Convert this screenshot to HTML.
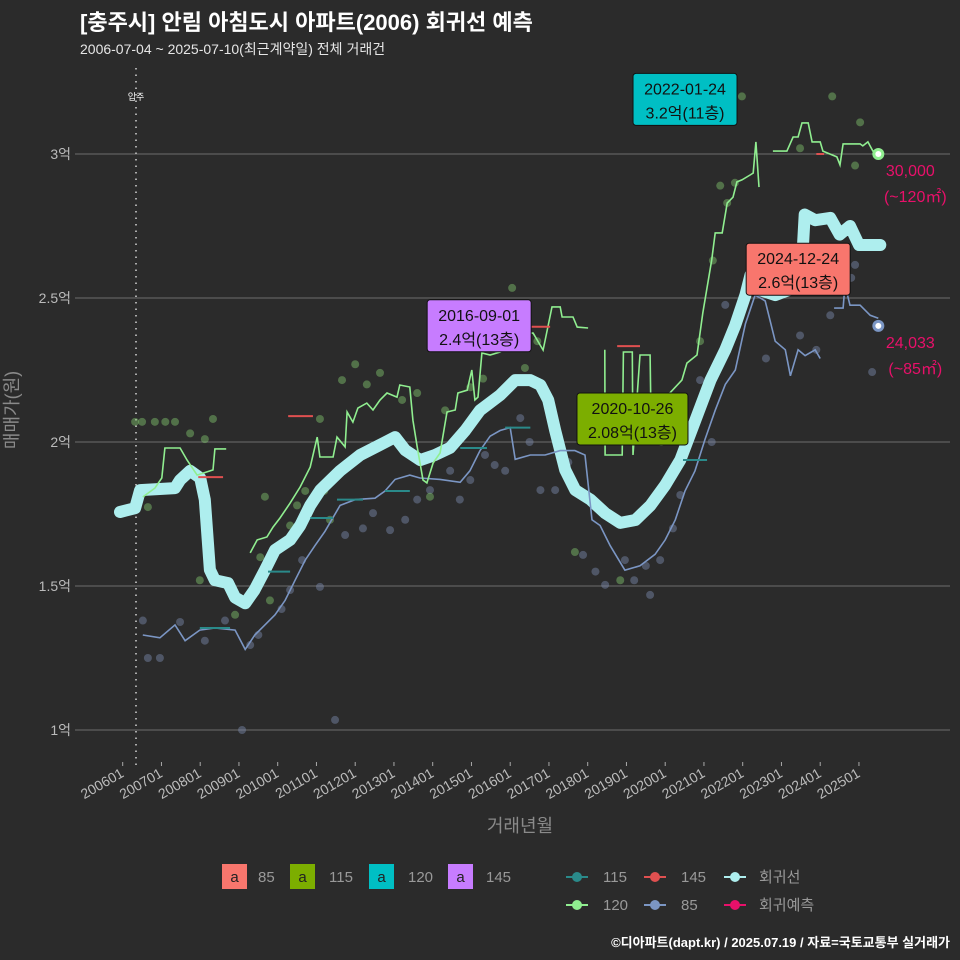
<!DOCTYPE html>
<html><head><meta charset="utf-8">
<style>
html,body{margin:0;padding:0;background:#2b2b2b;}
svg{display:block;font-family:"Liberation Sans","Noto Sans CJK KR",sans-serif;}
</style></head>
<body>
<svg id="chart" width="960" height="960" viewBox="0 0 960 960" xmlns="http://www.w3.org/2000/svg">
<rect width="960" height="960" fill="#2b2b2b"/>
<text x="80" y="30" font-size="22" font-weight="bold" fill="#ffffff">[충주시] 안림 아침도시 아파트(2006) 회귀선 예측</text>
<text x="80" y="54" font-size="14" fill="#e6e6e6">2006-07-04 ~ 2025-07-10(최근계약일) 전체 거래건</text>
<g id="grid"></g>
<g id="marks"></g>
<g id="ann"></g>
<text x="18" y="410" font-size="18" fill="#8a8a8a" text-anchor="middle" transform="rotate(-90 18 410)">매매가(원)</text>
<text x="520" y="832" font-size="18" fill="#8a8a8a" text-anchor="middle">거래년월</text>
<g>
 <rect x="222" y="864" width="25" height="25" fill="#f8766d"/>
 <text x="234.5" y="882" font-size="15" fill="#222" text-anchor="middle">a</text>
 <text x="258" y="882" font-size="15" fill="#999">85</text>
 <rect x="290" y="864" width="25" height="25" fill="#7cae00"/>
 <text x="302.5" y="882" font-size="15" fill="#222" text-anchor="middle">a</text>
 <text x="329" y="882" font-size="15" fill="#999">115</text>
 <rect x="369" y="864" width="25" height="25" fill="#00bfc4"/>
 <text x="381.5" y="882" font-size="15" fill="#222" text-anchor="middle">a</text>
 <text x="408" y="882" font-size="15" fill="#999">120</text>
 <rect x="448" y="864" width="25" height="25" fill="#c77cff"/>
 <text x="460.5" y="882" font-size="15" fill="#222" text-anchor="middle">a</text>
 <text x="486" y="882" font-size="15" fill="#999">145</text>
 <g><line x1="566" y1="877" x2="588" y2="877" stroke="#2a8a8a" stroke-width="2"/><circle cx="577" cy="877" r="5" fill="#2a8a8a"/><text x="603" y="882" font-size="15" fill="#999">115</text></g>
 <g><line x1="644" y1="877" x2="666" y2="877" stroke="#e05050" stroke-width="2"/><circle cx="655" cy="877" r="5" fill="#e05050"/><text x="681" y="882" font-size="15" fill="#999">145</text></g>
 <g><line x1="724" y1="877" x2="746" y2="877" stroke="#aeeeee" stroke-width="2"/><circle cx="735" cy="877" r="5" fill="#aeeeee"/><text x="759" y="882" font-size="15" fill="#999">회귀선</text></g>
 <g><line x1="566" y1="905" x2="588" y2="905" stroke="#90ee90" stroke-width="2"/><circle cx="577" cy="905" r="5" fill="#90ee90"/><text x="603" y="910" font-size="15" fill="#999">120</text></g>
 <g><line x1="644" y1="905" x2="666" y2="905" stroke="#7b96c4" stroke-width="2"/><circle cx="655" cy="905" r="5" fill="#7b96c4"/><text x="681" y="910" font-size="15" fill="#999">85</text></g>
 <g><line x1="724" y1="905" x2="746" y2="905" stroke="#e8106a" stroke-width="2"/><circle cx="735" cy="905" r="5" fill="#e8106a"/><text x="759" y="910" font-size="15" fill="#999">회귀예측</text></g>
</g>
<text x="950" y="947" font-size="13" font-weight="bold" fill="#ffffff" text-anchor="end">©디아파트(dapt.kr) / 2025.07.19 / 자료=국토교통부 실거래가</text>
</svg>
<script>
const yTicks=[1,1.5,2,2.5,3];
const yTickLabels=["1억","1.5억","2억","2.5억","3억"];
const xTickYears=[2006,2007,2008,2009,2010,2011,2012,2013,2014,2015,2016,2017,2018,2019,2020,2021,2022,2023,2024,2025];
const xTickLabels=["200601","200701","200801","200901","201001","201101","201201","201301","201401","201501","201601","201701","201801","201901","202001","202101","202201","202301","202401","202501"];
// regression line
const regT=[2005.93,2006.32,2006.45,2007.35,2007.48,2007.74,2008.0,2008.12,2008.25,2008.38,2008.72,2008.9,2009.16,2009.4,2009.67,2009.93,2010.32,2010.58,2010.84,2011.1,2011.61,2012.13,2012.64,2013.03,2013.29,2013.68,2014.06,2014.45,2014.84,2015.22,2015.74,2016.13,2016.52,2016.78,2016.98,2017.16,2017.42,2017.68,2018.07,2018.45,2018.84,2019.23,2019.62,2020.0,2020.39,2020.78,2021.17,2021.55,2021.81,2022.07,2022.2,2022.4,2022.84,2023.23,2023.5,2023.6,2023.87,2024.26,2024.5,2024.77,2025.0,2025.55];
const regV=[1.757,1.77,1.833,1.84,1.868,1.90,1.875,1.80,1.556,1.52,1.51,1.46,1.44,1.486,1.555,1.625,1.66,1.71,1.78,1.833,1.90,1.955,1.99,2.017,1.972,1.937,1.955,1.98,2.04,2.11,2.163,2.215,2.215,2.198,2.146,2.04,1.903,1.833,1.80,1.753,1.719,1.729,1.78,1.85,1.9375,2.076,2.215,2.32,2.406,2.51,2.58,2.53,2.51,2.53,2.545,2.79,2.77,2.778,2.72,2.75,2.684,2.684];
// 120 line (null = gap)
const g120T=[2006.52,2006.83,2007.01,2007.09,2007.48,2007.66,2007.92,2008.33,2008.38,2008.67,null,2009.29,2009.47,2009.72,2009.88,2010.06,2010.32,2010.58,2010.84,2011.02,2011.09,2011.43,2011.53,2011.74,2011.79,2011.94,2012.07,2012.3,2012.46,2012.64,2012.82,2013.08,2013.15,2013.41,2013.49,2013.6,2013.75,2013.85,2014.01,2014.19,2014.37,2014.58,2014.65,2014.89,2015.01,2015.09,2015.17,2015.27,2015.48,2015.74,2016.0,2016.26,2016.44,2016.59,2016.85,2017.08,2017.29,2017.34,2017.62,2017.73,2018.01,null,2018.44,2018.45,2018.89,2018.92,2019.15,2019.17,2019.35,2019.61,2019.64,2020.0,2020.07,2020.43,2020.56,2020.82,2020.97,2021.2,2021.29,2021.47,2021.6,2021.75,2021.85,2021.98,2022.19,2022.27,2022.34,2022.42,null,2022.78,2023.14,2023.3,2023.43,2023.53,2023.69,2023.79,2024.0,2024.07,2024.43,2024.51,2024.59,2025.03,2025.1,2025.23,2025.36,2025.49];
const g120V=[1.809,1.84,1.875,1.979,1.979,1.9375,1.885,1.903,1.976,1.976,null,1.615,1.66,1.67,1.705,1.736,1.788,1.844,1.913,2.017,1.948,1.948,2.017,1.983,2.104,2.069,2.118,2.135,2.111,2.146,2.17,2.156,2.198,2.191,2.076,1.983,1.868,1.858,1.927,1.962,2.104,2.111,2.17,2.18,2.25,2.146,2.156,2.309,2.302,2.3125,2.337,2.354,2.378,2.378,2.319,2.469,2.469,2.434,2.434,2.399,2.396,null,2.32,1.955,1.955,2.3125,2.3125,1.955,2.302,2.302,2.007,2.007,2.163,2.215,2.274,2.302,2.448,2.632,2.726,2.726,2.83,2.85,2.903,2.91,2.927,2.934,3.042,2.885,null,3.01,3.01,3.059,3.059,3.108,3.108,3.042,3.042,3.01,2.99,2.962,3.035,3.035,3.028,3.042,3.01,3.01];
// 85 line
const g85T=[2006.52,2006.96,2007.35,2007.61,2007.99,2008.38,2008.9,2009.16,2009.41,2009.67,2009.93,2010.19,2010.45,2010.71,2010.96,2011.22,2011.61,2012.0,2012.51,2012.77,2013.03,2013.41,2013.67,2014.19,2014.71,2014.96,2015.22,2015.48,2015.74,2016.0,2016.13,2016.52,2016.9,2017.29,2017.67,2017.93,2018.11,2018.32,2018.58,2018.96,2019.35,2019.74,2020.0,2020.26,2020.51,2020.77,2021.03,2021.29,2021.55,2021.81,2022.07,2022.32,2022.58,2022.84,2023.1,2023.23,2023.43,2023.61,2023.87,2024.0,null,2024.36,2024.59,2024.64,2024.77,2025.03,2025.29,2025.5];
const g85V=[1.33,1.32,1.365,1.31,1.347,1.354,1.347,1.28,1.33,1.365,1.40,1.45,1.52,1.59,1.64,1.69,1.78,1.80,1.805,1.83,1.87,1.885,1.875,1.87,1.86,1.90,1.97,2.02,2.04,2.05,1.94,1.955,1.955,1.97,1.97,1.955,1.73,1.71,1.64,1.555,1.57,1.61,1.66,1.73,1.83,1.90,2.01,2.11,2.20,2.25,2.41,2.51,2.49,2.35,2.32,2.23,2.32,2.30,2.32,2.29,null,2.465,2.465,2.545,2.475,2.475,2.44,2.43];
// 115 segments
const s115Start=[2007.99,2009.75,2010.84,2011.53,2012.77,2014.71,2015.87,2020.46];
const s115End=[2008.77,2010.32,2011.43,2012.2,2013.41,2015.4,2016.52,2021.08];
const s115V=[1.354,1.55,1.736,1.80,1.83,1.979,2.05,1.9375];
// 145 segments
const s145Start=[2007.95,2010.27,2016.52,2018.76,2023.9];
const s145End=[2008.59,2010.91,2017.03,2019.35,2024.1];
const s145V=[1.878,2.09,2.40,2.333,3.0];
// scatter dots
const d120T=[2006.65,2006.32,2006.83,2007.35,2007.74,2008.12,2008.33,2007.99,2008.9,2009.67,2009.8,2010.32,2010.71,2011.09,2011.35,2011.66,2012.0,2012.64,2013.21,2013.93,2014.32,2014.97,2016.05,2016.38,2017.67,2018.84,2019.48,2020.9,2021.23,2021.42,2021.98,2023.48,2024.31,2024.9,2025.03,2006.5,2007.1,2009.55,2010.5,2011.2,2012.3,2013.6,2015.3,2016.7,2019.9,2021.6,2021.8];
const d120V=[1.774,2.07,2.07,2.07,2.03,2.01,2.08,1.52,1.40,1.81,1.45,1.71,1.83,2.08,1.73,2.215,2.27,2.24,2.146,1.81,2.11,2.19,2.535,2.257,1.618,1.52,2.06,2.35,2.63,2.89,3.20,3.02,3.20,2.96,3.11,2.07,2.07,1.60,1.78,1.83,2.2,2.17,2.22,2.35,2.0,2.83,2.9];
const d85T=[2006.52,2006.65,2006.96,2007.48,2008.12,2008.64,2009.08,2009.29,2010.32,2010.63,2011.09,2011.48,2011.74,2012.46,2012.9,2013.29,2013.93,2014.45,2014.97,2015.35,2015.87,2016.26,2016.78,2017.16,2017.88,2018.45,2018.96,2019.61,2019.87,2020.39,2020.65,2020.9,2021.55,2022.84,2023.48,2024.26,2024.9,2025.34,2009.5,2010.1,2012.2,2013.6,2014.7,2015.6,2016.5,2017.5,2018.2,2019.2,2019.5,2020.2,2021.2,2022.6,2023.9,2024.8];
const d85V=[1.38,1.25,1.25,1.375,1.31,1.38,1.00,1.295,1.486,1.59,1.497,1.035,1.677,1.753,1.694,1.73,1.833,1.90,1.868,1.955,1.90,2.083,1.833,1.833,1.608,1.504,1.59,1.469,1.59,1.816,2.01,2.215,2.476,2.65,2.37,2.44,2.615,2.243,1.33,1.42,1.70,1.80,1.80,1.92,2.0,1.93,1.55,1.52,1.57,1.70,2.0,2.29,2.32,2.57];
// prediction points
const predT=[2025.5,2025.5];
const predV=[3.0,2.4033];
const predLabels=["30,000","24,033"];
const predArea=["(~120㎡)","(~85㎡)"];
const predColors=["#90ee90","#7b96c4"];
// callout boxes
const boxT=[2016.67,2022.06,2020.82,2024.98];
const boxV=[2.4,3.2,2.08,2.6];
const boxDate=["2016-09-01","2022-01-24","2020-10-26","2024-12-24"];
const boxText=["2.4억(13층)","3.2억(11층)","2.08억(13층)","2.6억(13층)"];
const boxColor=["#c77cff","#00bfc4","#7cae00","#f8766d"];
const boxDx=[-109,-112,-120,-112];
const boxDy=[-27,-23,-26,-26];

const NS="http://www.w3.org/2000/svg";
const X=t=>122.7+(t-2006)*38.75;
const Y=v=>730-(v-1)*288;
function mk(tag,attrs,parent){const e=document.createElementNS(NS,tag);for(const k in attrs)e.setAttribute(k,attrs[k]);parent.appendChild(e);return e;}
const grid=document.getElementById('grid'),marks=document.getElementById('marks'),ann=document.getElementById('ann');

yTicks.forEach((v,i)=>{
 const l=mk('line',{x1:75,x2:950,y1:Y(v),y2:Y(v),stroke:'#6e6e6e','stroke-width':1},grid);
 
 
 const t=mk('text',{x:71,y:Y(v)+5,'font-size':14,fill:'#bbbbbb','text-anchor':'end'},grid);
 t.textContent=yTickLabels[i];
 
 
});
xTickYears.forEach((yr,i)=>{
 const x=X(yr);
 const l=mk('line',{x1:x,x2:x,y1:762,y2:766,stroke:'#aaaaaa','stroke-width':1},grid);
 
 
 const t=mk('text',{x:x+2,y:776,'font-size':14,fill:'#bbbbbb','text-anchor':'end',transform:`rotate(-30 ${x+2} 776)`},grid);
 t.textContent=xTickLabels[i];
 
 
});
const mv=mk('line',{x1:136,x2:136,y1:68,y2:765,stroke:'#aaaaaa','stroke-width':2,'stroke-dasharray':'1.5 5'},grid);


const mvt=mk('text',{x:136,y:100,'font-size':9,fill:'#ffffff','text-anchor':'middle'},grid);
mvt.textContent='입주';



function dots(T,V,fill,name){T.forEach((t,i)=>{const c=mk('circle',{cx:X(t),cy:Y(V[i]),r:4,fill:fill},marks);
 
 });}
dots(d85T,d85V,'rgba(125,140,175,0.45)','dot-85');
dots(d120T,d120V,'rgba(130,200,110,0.45)','dot-120');

function path(T,V){let d='',pen=false;T.forEach((t,i)=>{if(t===null||V[i]===null){pen=false;return;}d+=(pen?'L':'M')+X(t).toFixed(1)+' '+Y(V[i]).toFixed(1);pen=true;});return d;}
const rg=mk('path',{d:path(regT,regV),fill:'none',stroke:'#aeeeee','stroke-width':12,'stroke-linejoin':'round','stroke-linecap':'round'},marks);


const p85=mk('path',{d:path(g85T,g85V),fill:'none',stroke:'#7b96c4','stroke-width':1.6},marks);


const p120=mk('path',{d:path(g120T,g120V),fill:'none',stroke:'#90ee90','stroke-width':1.6},marks);


s115Start.forEach((s,i)=>{const l=mk('line',{x1:X(s),x2:X(s115End[i]),y1:Y(s115V[i]),y2:Y(s115V[i]),stroke:'#2a8a8a','stroke-width':2},marks);
 
 });
s145Start.forEach((s,i)=>{const l=mk('line',{x1:X(s),x2:X(s145End[i]),y1:Y(s145V[i]),y2:Y(s145V[i]),stroke:'#e05050','stroke-width':2},marks);
 
 });

predT.forEach((t,i)=>{
 const c=mk('circle',{cx:X(t),cy:Y(predV[i]),r:6,fill:predColors[i]},ann);
 
 
 mk('circle',{cx:X(t),cy:Y(predV[i]),r:3,fill:'#ffffff'},ann);
 const a=mk('text',{x:X(t)+32,y:Y(predV[i])+22,'font-size':16,fill:'#e8106a','text-anchor':'middle'},ann);
 a.textContent=predLabels[i];
 
 
 const b=mk('text',{x:X(t)+37,y:Y(predV[i])+48,'font-size':16,fill:'#e8106a','text-anchor':'middle'},ann);
 b.textContent=predArea[i];
 
 
});

boxT.forEach((t,i)=>{
 const bx=X(t)+boxDx[i], by=Y(boxV[i])+boxDy[i];
 const w=boxText[i].length>9?111:104;
 const r=mk('rect',{x:bx,y:by,width:w,height:52,rx:3,fill:boxColor[i],stroke:'#111','stroke-width':1},ann);
 
 
 const a=mk('text',{x:bx+w/2,y:by+21,'font-size':16,fill:'#111','text-anchor':'middle'},ann);
 a.textContent=boxDate[i];
 
 
 const b=mk('text',{x:bx+w/2,y:by+45,'font-size':16,fill:'#111','text-anchor':'middle'},ann);
 b.textContent=boxText[i];
 
 
});
</script>
</body></html>
